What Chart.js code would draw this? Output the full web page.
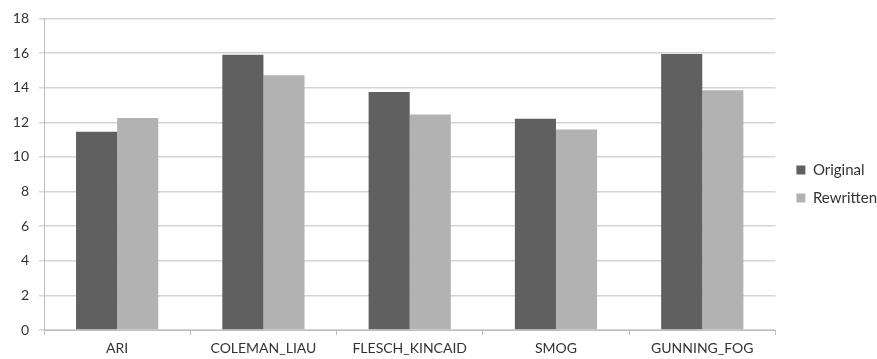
<!DOCTYPE html>
<html>
<head>
<meta charset="utf-8">
<script src="https://cdn.jsdelivr.net/npm/chart.js@4/dist/chart.umd.min.js"></script>
<style>
  html, body { margin: 0; padding: 0; background: #ffffff; }
  #wrap { width: 877px; height: 359px; position: relative; }
</style>
</head>
<body>
<div id="wrap"><canvas id="chart"></canvas></div>
<script>
// Readability scores per metric
const categories = ['ARI', 'COLEMAN_LIAU', 'FLESCH_KINCAID', 'SMOG', 'GUNNING_FOG'];
const originalScores = [11.45, 15.9, 13.75, 12.2, 15.95];
const rewrittenScores = [12.25, 14.72, 12.45, 11.58, 13.85];
const yTicks = [0, 2, 4, 6, 8, 10, 12, 14, 16, 18];

const FONT = 'Lato, "Open Sans", "Liberation Sans", sans-serif';

// Nudges the legend block to the right after the layout pass,
// leaving a gap between the plot area and the legend keys.
const legendShift = {
  id: 'legendShift',
  afterLayout(chart) {
    const lg = chart.legend;
    if (lg) { lg.left += 8; lg.right += 8; }
  }
};

new Chart(document.getElementById('chart'), {
  type: 'bar',
  data: {
    labels: categories,
    datasets: [
      { label: 'Original', data: originalScores, backgroundColor: '#606060' },
      { label: 'Rewritten', data: rewrittenScores, backgroundColor: '#b2b2b2' }
    ]
  },
  plugins: [legendShift],
  options: {
    responsive: true,
    maintainAspectRatio: false,
    animation: false,
    devicePixelRatio: 1,
    layout: { padding: { left: 0, top: 9, right: -2, bottom: 0 } },
    datasets: { bar: { barPercentage: 1.0, categoryPercentage: 0.562 } },
    plugins: {
      tooltip: { enabled: false },
      legend: {
        position: 'right',
        labels: {
          boxWidth: 9,
          boxHeight: 9,
          padding: 13,
          color: '#333333',
          font: { family: FONT, size: 15 }
        }
      }
    },
    scales: {
      x: {
        afterFit: (axis) => { axis.height = 29; },
        grid: {
          offset: true,
          drawOnChartArea: false,
          drawTicks: true,
          tickLength: 5,
          color: '#bdbdbd'
        },
        border: { color: '#bdbdbd', width: 1 },
        ticks: {
          color: '#333333',
          padding: 5,
          maxRotation: 0,
          font: { family: FONT, size: 14 }
        }
      },
      y: {
        min: 0,
        max: 18,
        afterBuildTicks: (axis) => { axis.ticks = yTicks.map(v => ({ value: v })); },
        afterFit: (axis) => { axis.width = 44; },
        grid: { color: '#d4d4d4', lineWidth: 1.5, tickLength: 5 },
        border: { color: '#bdbdbd', width: 1 },
        ticks: {
          color: '#333333',
          padding: 10,
          font: { family: FONT, size: 14 }
        }
      }
    }
  }
});
</script>
</body>
</html>
